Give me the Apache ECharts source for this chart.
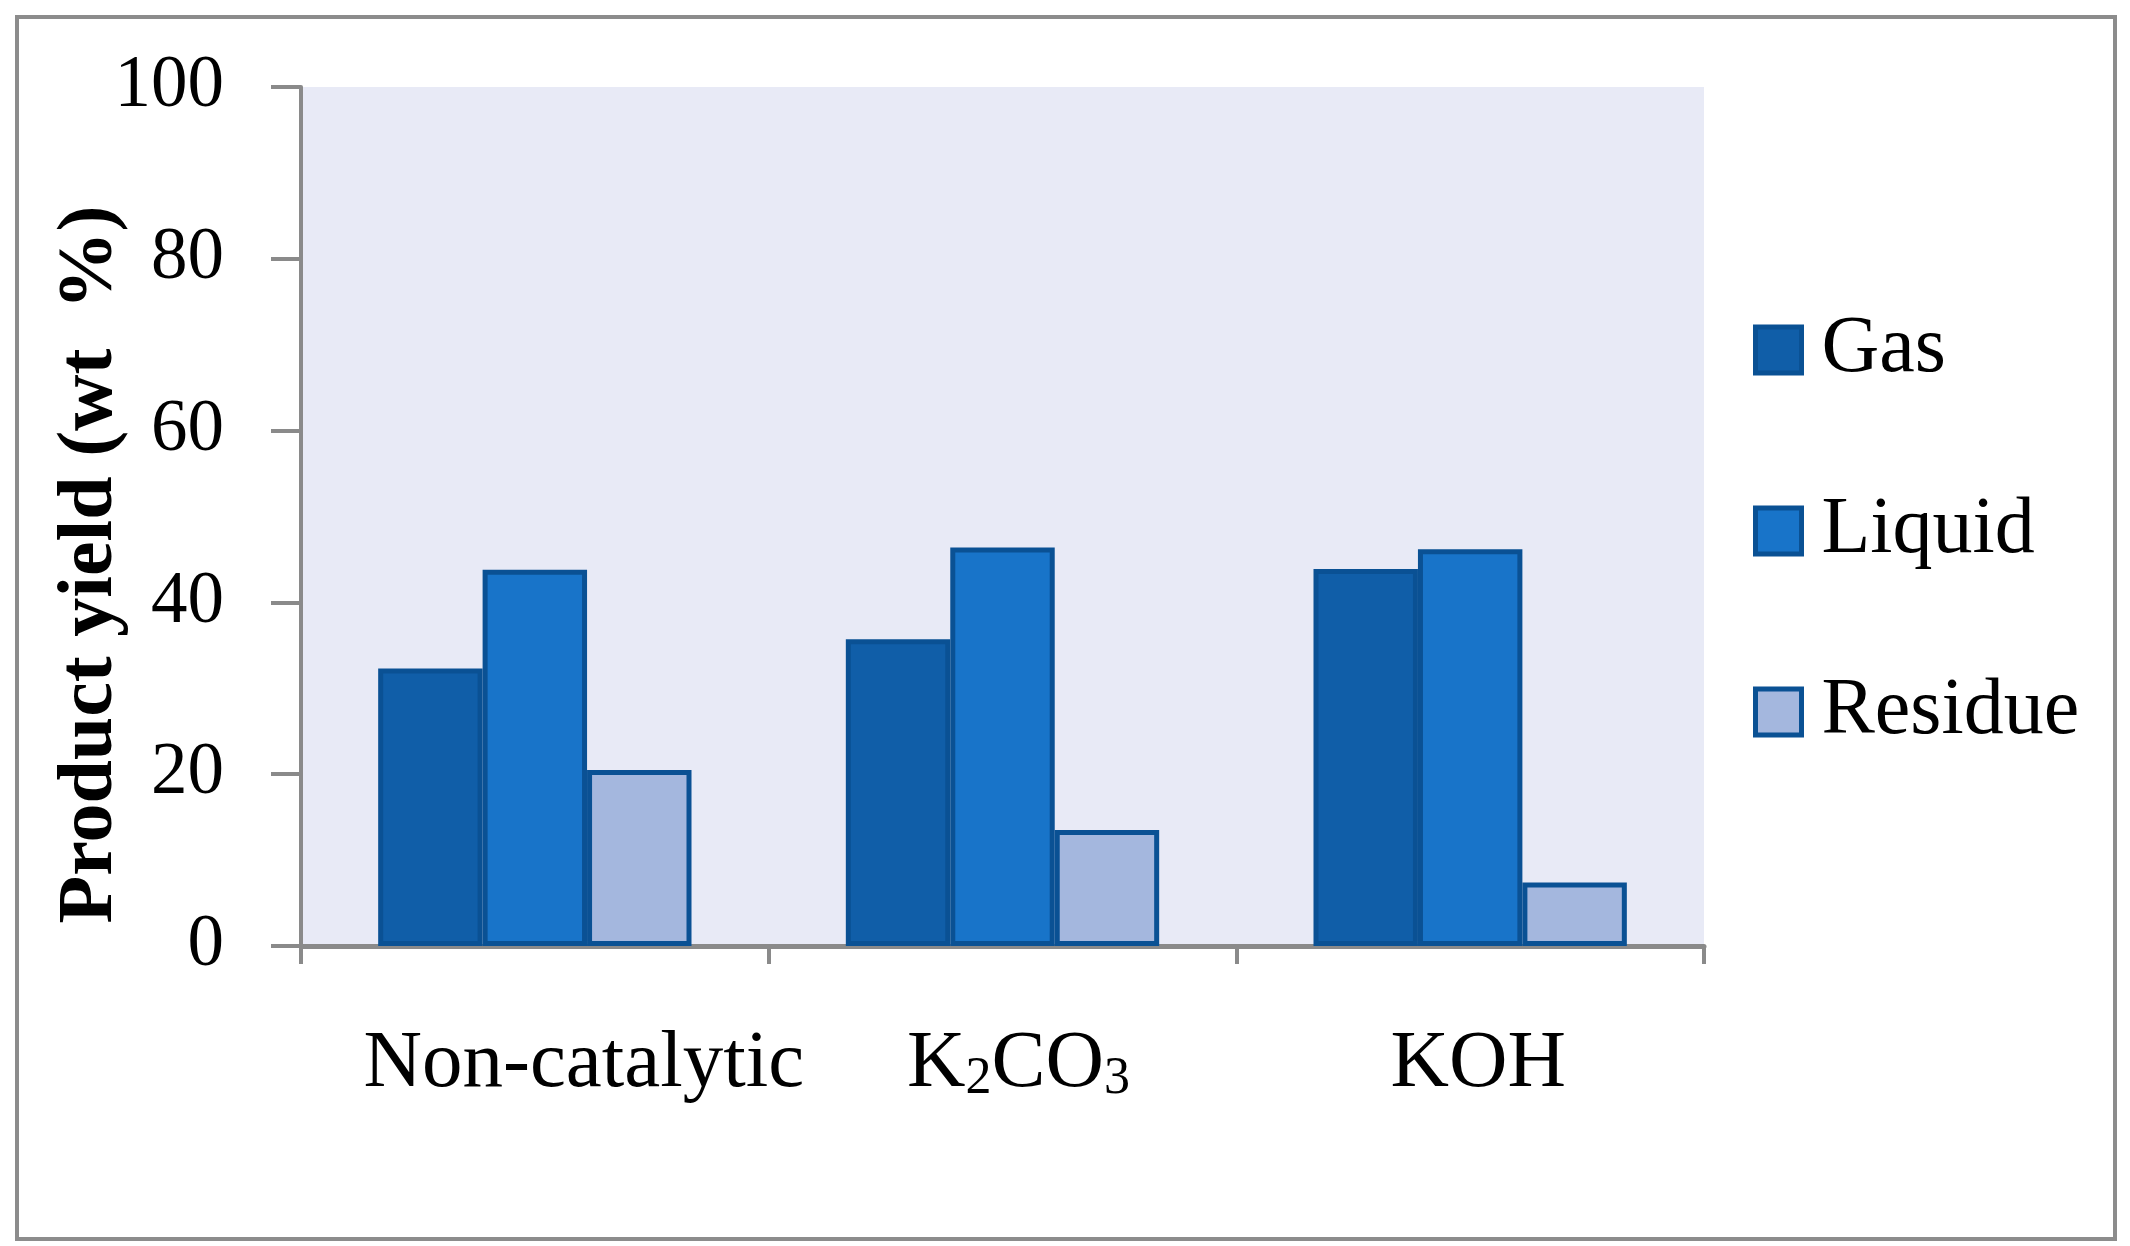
<!DOCTYPE html>
<html>
<head>
<meta charset="utf-8">
<script src="https://cdn.jsdelivr.net/npm/echarts@6/dist/echarts.min.js"></script>
<style>
    html, body {margin: 0; padding: 0; background: #fff;}
    #wrap {position: relative; width: 2130px; height: 1246px;}
    #chart {width: 2130px; height: 1246px;}
    #frame {position: absolute; left: 15px; top: 15px; width: 2094px; height: 1218px; border: 4px solid #8c8c8c; pointer-events: none;}
</style>
</head>
<body>
<div id="wrap">
    <div id="chart"></div>
    <div id="frame"></div>
</div>
<script>
    // data
    const categories = ['Non-catalytic', 'K2CO3', 'KOH'];
    const seriesNames = ['Gas', 'Liquid', 'Residue'];
    const gas = [32.3, 35.7, 43.9];
    const liquid = [43.8, 46.4, 46.2];
    const residue = [20.5, 13.5, 7.4];
    const yTicks = [0, 20, 40, 60, 80, 100];

    const FONT = '"Liberation Serif", "Times New Roman", serif';
    const AXIS_GREY = '#8a8a8a';
    const BAR_EDGE = '#0a5194';
    const colors = ['#105ea8', '#1874c9', '#a4b7de'];
    // small label nudges, the source centres its labels a bit right
    const labelShift = [49, 16, 8];

    const label = v => v === 'K2CO3' ? '{n|K}{s|2}{n|CO}{s|3}' : '{n|' + v + '}';

    const chart = echarts.init(document.getElementById('chart'), null, {renderer: 'canvas'});

    const S = (name, data, i) => ({
        name, type: 'bar', data,
        barGap: '0%', barCategoryGap: '33%',
        itemStyle: {color: colors[i], borderColor: BAR_EDGE, borderWidth: 5},
        emphasis: {disabled: true}
    });

    chart.setOption({
        animation: false,
        textStyle: {fontFamily: FONT},
        grid: {
            left: 301, top: 87, width: 1403, height: 859,
            show: true, backgroundColor: '#e8eaf6', borderWidth: 0
        },
        legend: {
            data: seriesNames, orient: 'vertical',
            left: 1748, top: 305, itemWidth: 46, itemHeight: 46, itemGap: 101,
            icon: 'rect', selectedMode: false,
            itemStyle: {borderWidth: 5},
            textStyle: {fontFamily: FONT, fontSize: 80, lineHeight: 80, color: '#000', padding: [0, 0, 0, 15]}
        },
        xAxis: {
            type: 'category',
            data: categories.map((c, i) => ({value: c, textStyle: {padding: [0, 0, 0, labelShift[i] * 2]}})),
            axisLine: {lineStyle: {color: AXIS_GREY, width: 5}},
            axisTick: {show: true, length: 18, lineStyle: {color: AXIS_GREY, width: 4}},
            axisLabel: {
                margin: 78, color: '#000', formatter: label,
                rich: {
                    n: {fontFamily: FONT, fontSize: 81, lineHeight: 81, color: '#000', verticalAlign: 'bottom'},
                    s: {fontFamily: FONT, fontSize: 52, lineHeight: 52, color: '#000', verticalAlign: 'bottom'}
                }
            }
        },
        yAxis: {
            type: 'value', min: yTicks[0], max: yTicks[yTicks.length - 1], interval: 20,
            name: 'Product yield (wt  %)', nameLocation: 'middle', nameGap: 171, nameMoveOverlap: false,
            nameTextStyle: {fontFamily: FONT, fontSize: 78, fontWeight: 'bold', color: '#000', padding: [0, 96, 0, 0]},
            axisLine: {show: true, lineStyle: {color: AXIS_GREY, width: 4}},
            axisTick: {show: true, length: 30, lineStyle: {color: AXIS_GREY, width: 4}},
            axisLabel: {margin: 77, fontFamily: FONT, fontSize: 73, color: '#000'},
            splitLine: {show: false}
        },
        series: [
            S(seriesNames[0], gas, 0),
            S(seriesNames[1], liquid, 1),
            S(seriesNames[2], residue, 2)
        ]
    });
</script>
</body>
</html>
